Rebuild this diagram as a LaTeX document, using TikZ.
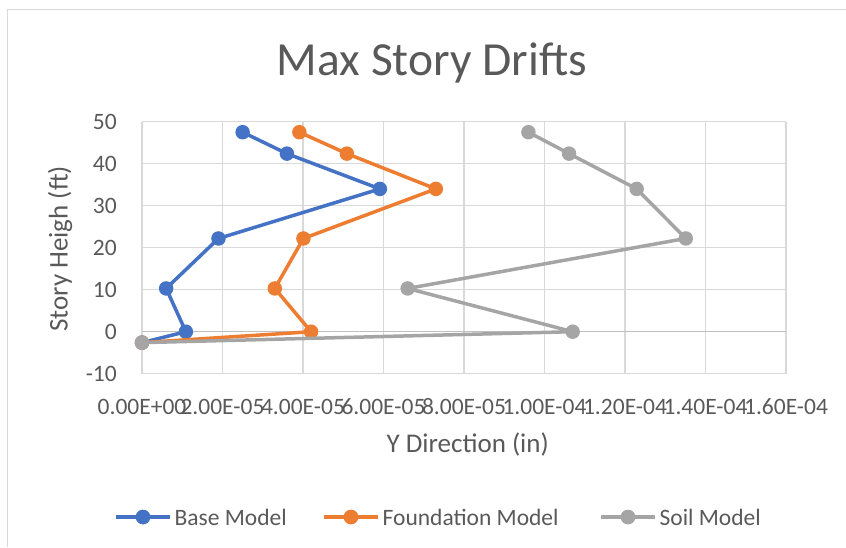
\documentclass[tikz,border=0pt]{standalone}
\usepackage{fontspec}
\setmainfont{Carlito}
\usepackage{tikz}
\usetikzlibrary{positioning}
\definecolor{txtgray}{RGB}{89,89,89}
\definecolor{gridgray}{RGB}{217,217,217}
\definecolor{axisgray}{RGB}{191,191,191}
\definecolor{baseblue}{RGB}{68,114,196}
\definecolor{fndorange}{RGB}{237,125,49}
\definecolor{soilgray}{RGB}{165,165,165}
\tikzset{
  gridln/.style={draw=gridgray,line width=1.3pt},
  series/.style={line width=3.5pt,line join=round,line cap=round},
  mrk/.style={circle,fill=#1,minimum size=14.5pt,inner sep=0pt},
  ticklab/.style={text=txtgray,font=\fontsize{23.5}{26}\selectfont,inner sep=0pt},
  axtitle/.style={text=txtgray,font=\fontsize{27}{30}\selectfont,inner sep=0pt},
  legtext/.style={text=txtgray,font=\fontsize{23.5}{26}\selectfont,inner sep=0pt,anchor=west},
}

\begin{document}
\begin{tikzpicture}[x=1pt,y=-1pt]
\useasboundingbox (0,0) rectangle (846,547);
% chart frame (only left and top edges show)
\draw[gridln] (7.5,547) -- (7.5,9.5) -- (846,9.5);
\node[text=txtgray,font=\fontsize{47.5}{52}\selectfont,inner sep=0pt,anchor=base] (title) at (432,75.5) {Max Story Drifts};

\begin{scope}[shift={(142,331.7)},x=40.25pt,y=4.2pt]
% grid
\foreach \i in {0,2,...,16}{
  \draw[gridln] (\i,-10) -- (\i,50);
}
\foreach \j in {-10,10,20,30,40,50}{
  \draw[gridln] (0,\j) -- (16,\j);
}
\draw[draw=axisgray,line width=1.3pt] (0,0) -- (16,0);
% tick labels
\foreach \j in {-10,0,...,50}{
  \node[ticklab,anchor=east] (yt\j) at ([xshift=-25pt]0,\j) {\j};
}
\foreach \i/\lab in {0/0.00E+00,2/2.00E-05,4/4.00E-05,6/6.00E-05,8/8.00E-05,
  10/1.00E-04,12/1.20E-04,14/1.40E-04,16/1.60E-04}{
  \node[ticklab,anchor=base] (xt\i) at ([yshift=-40.3pt]\i,-10) {\lab};
}
% base model
\foreach \k/\xv/\yv in {1/2.50/47.5,2/3.60/42.4,3/5.91/34.0,4/1.90/22.2,5/0.60/10.3,6/1.09/0,7/0/-2.6}{
  \coordinate (b\k) at (\xv,\yv);
}
\draw[series,baseblue] (b1) -- (b2) -- (b3) -- (b4) -- (b5) -- (b6) -- (b7);
\foreach \k in {1,...,7}{
  \node[mrk=baseblue] (bm\k) at (b\k) {};
}
% foundation model
\foreach \k/\xv/\yv in {1/3.91/47.5,2/5.09/42.4,3/7.30/34.0,4/4.01/22.2,5/3.30/10.3,6/4.20/0,7/0/-2.6}{
  \coordinate (f\k) at (\xv,\yv);
}
\draw[series,fndorange] (f1) -- (f2) -- (f3) -- (f4) -- (f5) -- (f6) -- (f7);
\foreach \k in {1,...,7}{
  \node[mrk=fndorange] (fm\k) at (f\k) {};
}
% soil model
\foreach \k/\xv/\yv in {1/9.60/47.5,2/10.61/42.4,3/12.29/34.0,4/13.51/22.2,5/6.60/10.3,6/10.70/0,7/0/-2.6}{
  \coordinate (s\k) at (\xv,\yv);
}
\draw[series,soilgray] (s1) -- (s2) -- (s3) -- (s4) -- (s5) -- (s6) -- (s7);
\foreach \k in {1,...,7}{
  \node[mrk=soilgray] (sm\k) at (s\k) {};
}
\end{scope}

% axis titles
\node[axtitle,anchor=base] (xtitle) at (467.7,452) {Y Direction (in)};
\node[axtitle,rotate=90] (ytitle) at (60,249) {Story Heigh (ft)};

% legend
\foreach \n/\c/\x/\lab in {1/baseblue/143/Base Model,2/fndorange/351/Foundation Model,3/soilgray/628/Soil Model}{
  \node[mrk=\c] (lg\n) at (\x,517) {};
  \draw[series,\c,line cap=butt] ([xshift=-27pt]lg\n.center) -- ([xshift=27pt]lg\n.center);
  \node[mrk=\c] at (lg\n) {};
  \node[legtext,right=24pt of lg\n] (lt\n) {\lab};
}
\end{tikzpicture}
\end{document}
